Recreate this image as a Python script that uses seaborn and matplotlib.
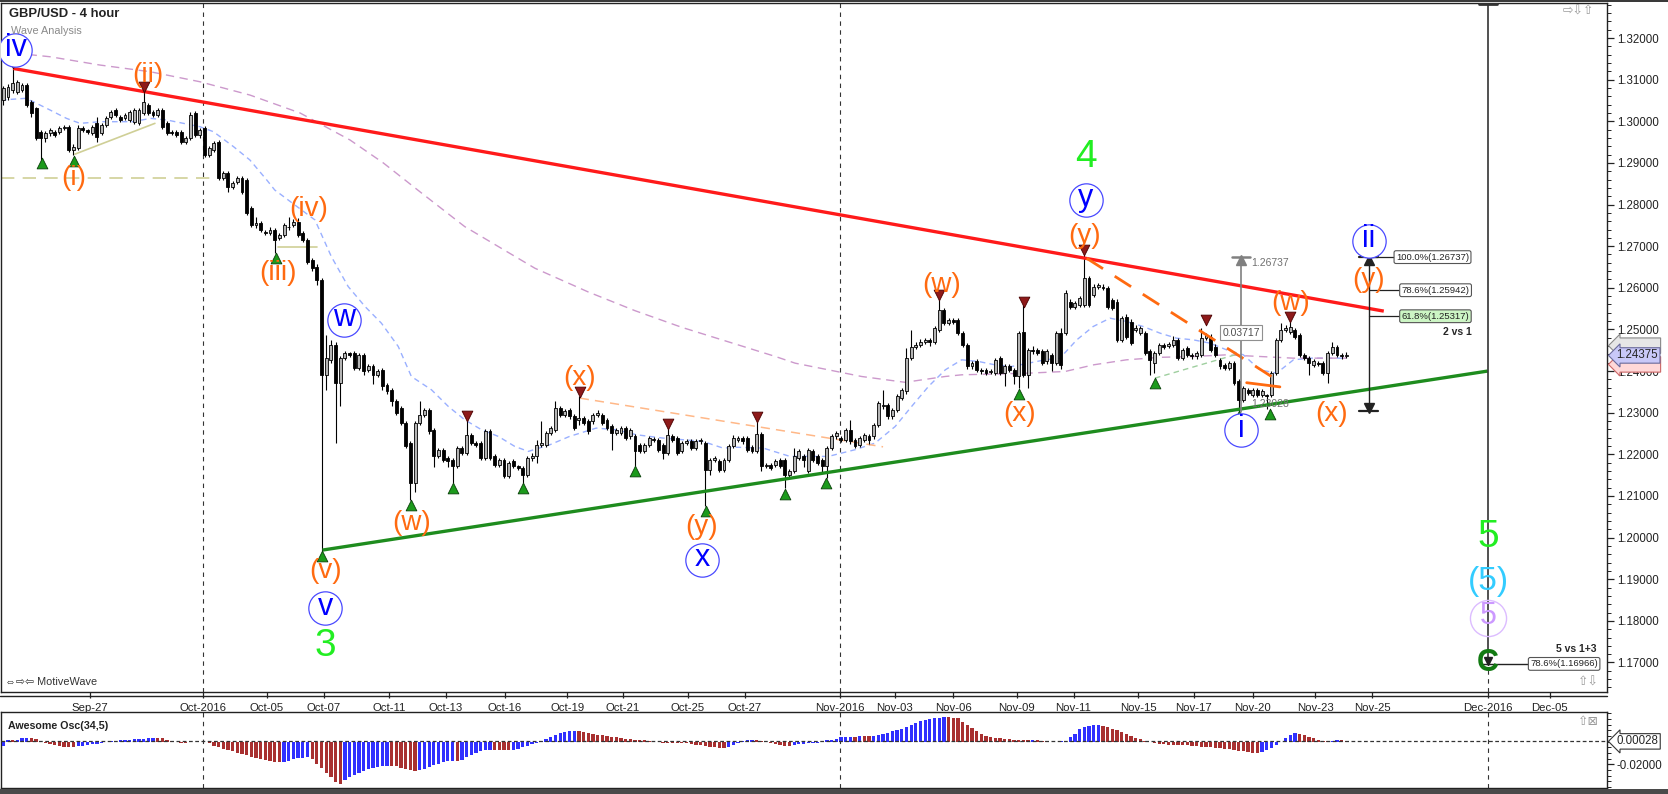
import numpy as np
import pandas as pd
import matplotlib
matplotlib.use("Agg")
import matplotlib.pyplot as plt
import matplotlib.transforms as mtransforms
from matplotlib.ticker import FormatStrFormatter, MultipleLocator, NullFormatter
import seaborn as sns

# ---- GBP/USD 4h candles: (open, high, low, close) in pips (1e-4) ----
candles_1 = [
    (13051, 13085, 13040, 13079), (13059, 13090, 13052, 13083), (13075, 13127, 13068, 13091),
    (13071, 13100, 13065, 13095), (13075, 13092, 13070, 13087), (13087, 13092, 13035, 13039),
    (13047, 13050, 13010, 13019), (13031, 13035, 12955, 12959), (12975, 12980, 12907, 12959),
    (12959, 12976, 12950, 12971), (12971, 12984, 12965, 12979), (12975, 12980, 12962, 12967),
    (12975, 12988, 12970, 12983), (12983, 12992, 12978, 12987), (12987, 12990, 12925, 12931),
    (12931, 12945, 12919, 12939), (12935, 12990, 12930, 12983), (12983, 12988, 12974, 12979),
    (12979, 12982, 12970, 12975), (12971, 12992, 12966, 12987), (12995, 13011, 12951, 12963),
    (12971, 12996, 12966, 12991), (12991, 13012, 12986, 13007), (13011, 13028, 13006, 13023),
    (13027, 13032, 13010, 13015), (13011, 13015, 12998, 13003), (13007, 13020, 13002, 13015),
    (13003, 13028, 12998, 13023), (12999, 13032, 12994, 13027), (12995, 13032, 12990, 13027),
    (13019, 13075, 13014, 13047), (13039, 13044, 13014, 13019), (13023, 13028, 13010, 13015),
    (13015, 13032, 13010, 13027), (13027, 13032, 12982, 12987), (12995, 13000, 12966, 12971),
    (12975, 12978, 12966, 12971), (12975, 12980, 12962, 12967), (12975, 12980, 12946, 12951),
    (12951, 12964, 12946, 12959), (12959, 13022, 12954, 13015), (13019, 13024, 12962, 12967),
    (12967, 12984, 12960, 12979), (12983, 12988, 12914, 12919), (12919, 12940, 12914, 12935),
    (12931, 12952, 12926, 12947), (12951, 12956, 12858, 12863), (12863, 12880, 12858, 12875),
    (12875, 12880, 12830, 12843), (12843, 12856, 12838, 12851), (12855, 12868, 12850, 12863),
    (12863, 12868, 12826, 12831), (12859, 12864, 12774, 12779), (12791, 12796, 12746, 12751),
    (12751, 12770, 12744, 12755), (12755, 12760, 12734, 12739), (12735, 12740, 12726, 12731),
]
candles_2 = [
    (12731, 12745, 12726, 12739), (12739, 12744, 12683, 12715), (12719, 12732, 12714, 12727),
    (12727, 12756, 12722, 12751), (12745, 12771, 12740, 12747), (12751, 12765, 12746, 12759),
    (12759, 12767, 12722, 12727), (12731, 12736, 12710, 12715), (12715, 12720, 12658, 12663),
    (12667, 12672, 12640, 12647), (12651, 12656, 12607, 12619), (12619, 12624, 11967, 12391),
    (12391, 12487, 12355, 12431), (12427, 12475, 12420, 12463), (12463, 12470, 12227, 12371),
    (12371, 12436, 12315, 12431), (12431, 12448, 12426, 12443), (12443, 12446, 12434, 12439),
    (12443, 12448, 12402, 12407), (12407, 12444, 12402, 12439), (12439, 12444, 12390, 12399),
    (12403, 12416, 12398, 12411), (12411, 12416, 12370, 12391), (12391, 12404, 12386, 12399),
    (12403, 12408, 12355, 12363), (12367, 12372, 12346, 12351), (12355, 12360, 12315, 12327),
    (12327, 12332, 12294, 12299), (12311, 12316, 12270, 12275), (12275, 12280, 12214, 12219),
    (12227, 12232, 12091, 12131), (12131, 12280, 12110, 12275), (12275, 12327, 12270, 12295),
    (12295, 12312, 12290, 12307), (12307, 12312, 12250, 12255), (12259, 12264, 12170, 12195),
    (12195, 12216, 12190, 12211), (12211, 12216, 12182, 12187), (12191, 12196, 12170, 12183),
    (12187, 12192, 12131, 12171), (12171, 12220, 12166, 12215), (12215, 12220, 12198, 12203),
    (12203, 12283, 12198, 12247), (12247, 12252, 12222, 12227), (12227, 12232, 12218, 12223),
    (12227, 12232, 12186, 12191), (12191, 12262, 12186, 12255), (12255, 12262, 12186, 12191),
    (12195, 12200, 12170, 12175), (12175, 12192, 12170, 12187), (12187, 12192, 12142, 12147),
    (12147, 12184, 12142, 12179), (12183, 12188, 12166, 12171), (12171, 12174, 12162, 12167),
    (12167, 12172, 12127, 12151), (12151, 12196, 12146, 12191), (12191, 12203, 12183, 12195),
]
candles_3 = [
    (12195, 12235, 12179, 12223), (12223, 12279, 12218, 12227), (12223, 12256, 12218, 12251),
    (12251, 12268, 12246, 12263), (12259, 12327, 12254, 12311), (12311, 12316, 12290, 12295),
    (12295, 12308, 12290, 12303), (12307, 12312, 12286, 12291), (12291, 12296, 12258, 12263),
    (12283, 12339, 12270, 12287), (12287, 12292, 12270, 12275), (12279, 12284, 12250, 12255),
    (12279, 12300, 12274, 12295), (12295, 12307, 12290, 12299), (12295, 12300, 12270, 12275),
    (12283, 12288, 12258, 12263), (12267, 12272, 12211, 12251), (12251, 12264, 12246, 12259),
    (12251, 12268, 12246, 12263), (12263, 12268, 12234, 12239), (12243, 12264, 12238, 12259),
    (12243, 12248, 12171, 12207), (12223, 12228, 12202, 12207), (12207, 12228, 12202, 12223),
    (12223, 12244, 12218, 12239), (12237, 12242, 12230, 12235), (12235, 12240, 12206, 12211),
    (12223, 12228, 12189, 12203), (12203, 12265, 12198, 12247), (12243, 12248, 12230, 12235),
    (12239, 12244, 12198, 12203), (12207, 12232, 12202, 12227), (12227, 12236, 12222, 12231),
    (12231, 12236, 12210, 12215), (12215, 12236, 12210, 12231), (12231, 12240, 12226, 12235),
    (12227, 12232, 12075, 12163), (12163, 12192, 12151, 12187), (12187, 12196, 12182, 12191),
    (12183, 12188, 12158, 12163), (12163, 12192, 12158, 12187), (12187, 12224, 12182, 12219),
    (12219, 12247, 12214, 12239), (12235, 12244, 12230, 12239), (12239, 12244, 12226, 12231),
    (12239, 12244, 12206, 12211), (12217, 12222, 12202, 12207), (12207, 12279, 12202, 12249),
    (12249, 12254, 12159, 12171), (12171, 12180, 12166, 12175), (12175, 12180, 12162, 12167),
    (12175, 12188, 12170, 12183), (12187, 12192, 12166, 12171), (12187, 12192, 12119, 12151),
    (12151, 12164, 12146, 12159), (12159, 12215, 12154, 12195),
]
candles_4 = [
    (12191, 12212, 12186, 12207), (12195, 12200, 12170, 12187), (12159, 12216, 12154, 12211),
    (12207, 12212, 12182, 12187), (12195, 12200, 12174, 12179), (12187, 12192, 12155, 12171),
    (12171, 12220, 12143, 12215), (12215, 12248, 12210, 12243), (12243, 12256, 12238, 12251),
    (12239, 12244, 12230, 12235), (12235, 12264, 12230, 12259), (12259, 12283, 12226, 12231),
    (12235, 12240, 12214, 12219), (12223, 12244, 12218, 12239), (12235, 12252, 12230, 12247),
    (12243, 12248, 12225, 12235), (12243, 12276, 12238, 12271), (12271, 12328, 12266, 12323),
    (12315, 12355, 12310, 12319), (12319, 12324, 12286, 12291), (12291, 12312, 12286, 12307),
    (12307, 12344, 12302, 12339), (12335, 12360, 12330, 12355), (12351, 12455, 12346, 12431),
    (12431, 12499, 12426, 12459), (12459, 12470, 12454, 12463), (12463, 12476, 12458, 12471),
    (12471, 12480, 12466, 12475), (12475, 12480, 12460, 12471), (12471, 12508, 12466, 12503),
    (12499, 12575, 12494, 12547), (12547, 12552, 12510, 12515), (12515, 12528, 12510, 12523),
    (12523, 12528, 12514, 12519), (12523, 12528, 12486, 12491), (12491, 12496, 12458, 12463),
    (12463, 12468, 12406, 12411), (12411, 12424, 12406, 12419), (12423, 12428, 12398, 12403),
    (12403, 12408, 12394, 12399), (12403, 12408, 12390, 12395), (12397, 12406, 12392, 12401),
    (12395, 12432, 12390, 12427), (12431, 12436, 12390, 12395), (12395, 12416, 12363, 12411),
    (12411, 12416, 12398, 12403), (12403, 12408, 12370, 12387), (12387, 12496, 12359, 12491),
    (12495, 12559, 12386, 12391), (12391, 12456, 12359, 12451), (12451, 12460, 12442, 12447),
    (12451, 12456, 12438, 12443), (12447, 12452, 12414, 12419), (12423, 12452, 12418, 12447),
    (12439, 12444, 12400, 12419), (12419, 12496, 12414, 12491),
]
candles_5 = [
    (12491, 12503, 12406, 12415), (12491, 12595, 12486, 12587), (12567, 12572, 12550, 12555),
    (12555, 12568, 12550, 12563), (12559, 12580, 12554, 12575), (12559, 12679, 12554, 12623),
    (12623, 12628, 12554, 12559), (12583, 12608, 12578, 12603), (12603, 12612, 12598, 12607),
    (12603, 12608, 12594, 12599), (12599, 12604, 12550, 12555), (12571, 12576, 12546, 12551),
    (12567, 12572, 12470, 12475), (12475, 12532, 12470, 12527), (12531, 12536, 12478, 12483),
    (12519, 12524, 12462, 12467), (12499, 12510, 12494, 12503), (12491, 12508, 12486, 12503),
    (12491, 12496, 12438, 12443), (12447, 12452, 12391, 12427), (12419, 12448, 12395, 12443),
    (12443, 12468, 12438, 12463), (12463, 12468, 12454, 12459), (12461, 12470, 12456, 12465),
    (12463, 12485, 12458, 12475), (12475, 12480, 12426, 12431), (12431, 12456, 12426, 12451),
    (12455, 12460, 12434, 12439), (12439, 12444, 12430, 12435), (12435, 12448, 12430, 12443),
    (12439, 12503, 12434, 12479), (12479, 12492, 12474, 12487), (12483, 12488, 12446, 12451),
    (12459, 12464, 12434, 12439), (12427, 12432, 12406, 12411), (12415, 12420, 12402, 12407),
    (12407, 12424, 12402, 12419), (12419, 12424, 12366, 12371), (12375, 12380, 12302, 12331),
    (12331, 12364, 12326, 12359), (12355, 12360, 12342, 12347), (12343, 12360, 12338, 12355),
    (12355, 12360, 12338, 12343), (12343, 12356, 12338, 12351), (12343, 12346, 12310, 12339),
    (12343, 12400, 12338, 12395), (12395, 12480, 12390, 12475), (12475, 12515, 12470, 12499),
    (12499, 12510, 12494, 12503), (12495, 12517, 12490, 12507), (12499, 12504, 12478, 12483),
    (12487, 12492, 12434, 12439), (12439, 12444, 12426, 12431), (12431, 12436, 12390, 12419),
    (12415, 12428, 12410, 12423), (12419, 12424, 12412, 12417), (12419, 12424, 12390, 12395),
    (12395, 12448, 12371, 12443), (12443, 12471, 12438, 12459), (12457, 12462, 12434, 12439),
    (12439, 12444, 12430, 12435), (12437, 12446, 12432, 12438),
]

# ---- Awesome Oscillator (34,5), one value per bar, in 1e-4 ----
ao_1 = [
    -38, 15, 15, 18, 30, 35, 35, 21, 3, -9,
    -21, -32, -41, -44, -44, -44, -41, -35, -30, -24,
    -18, -12, -6, 3, 9, 12, 15, 18, 21, 24,
    27, 32, 35, 35, 32, 15, 3, -6, -9, -9,
    -6, 0, 0, 0, -15, -38, -50, -62, -74, -86,
    -97, -109, -121, -133, -145, -156, -165, -174, -180, -183,
    -180, -168, -156, -148, -142, -139, -150, -198, -236, -274,
    -316, -354, -375, -339, -316, -295, -274, -257, -245, -233,
    -224, -218, -215, -215, -218, -230, -242, -251, -257, -251,
    -239, -224, -209, -195, -180, -171, -168, -171, -162, -139,
    -118, -97, -83, -74, -71, -71, -74, -77, -77, -74,
    -65, -50, -38, -24, -12, 6, 27, 44, 62, 77,
    86, 91, 94, 91, 86, 77, 68, 62, 56, 50,
    44, 38, 32, 27, 21, 18, 15, 12, 6, -3,
]
ao_2 = [
    -6, -9, -9, -12, -12, -12, -15, -21, -27, -32,
    -38, -44, -50, -56, -59, -44, -27, -9, 6, 15,
    18, 15, 9, -3, -12, -21, -30, -35, -35, -30,
    -24, -18, -15, -12, -9, 3, 12, 15, 21, 38,
    41, 44, 44, 47, 47, 47, 50, 59, 68, 80,
    91, 103, 115, 133, 150, 168, 183, 195, 204, 209,
    212, 215, 215, 212, 206, 177, 148, 118, 94, 68,
    50, 41, 35, 30, 24, 21, 18, 15, 15, 12,
    15, 12, 9, 3, 0, 0, 3, 9, 38, 68,
    109, 133, 142, 145, 148, 142, 127, 115, 100, 86,
    68, 50, 35, 24, 9, 0, -9, -18, -24, -30,
    -30, -30, -30, -32, -38, -41, -47, -50, -50, -53,
    -56, -62, -68, -74, -80, -86, -91, -97, -103, -91,
    -74, -56, -32, 0, 32, 62, 74, 71, 59, 44,
    30, 18, 6, 3, 6, 15, 12, 3,
]

# ---- moving averages (bar index, pips) ----
fast_ma_bar = [-0.5, 4.6, 6.4, 10, 13.5, 16.4, 20.7, 27.8, 31.4, 35, 38.5, 42, 44.9, 49.2, 52.7,
               56.3, 58, 66.6, 70.1, 73.7, 77.3, 80.8, 84.4, 87.2, 91.5, 95.1, 98.6, 102.2, 105.8,
               109.3, 112.2, 116.8, 121, 126.7, 131, 135.3, 141, 145.3, 149.5, 153.8, 156.7, 162.4,
               168.1, 176.3, 182, 186.3, 190.6, 194.1, 197.7, 201.3, 204.8, 208.4, 211.9, 215.5,
               219.1, 222.6, 225.8, 229.4, 232.9, 236.5, 240, 243.6, 247.2, 250.7, 254.3, 257.9,
               261.4, 265, 268.5, 272.1, 275.7, 279.2, 282.8, 287]
fast_ma_pips = [13051, 13055, 13047, 13027, 13007, 12995, 12999, 12999, 13007, 13003, 12995, 12987,
                12975, 12939, 12907, 12859, 12835, 12763, 12675, 12603, 12555, 12515, 12459, 12387,
                12355, 12315, 12283, 12259, 12243, 12219, 12207, 12223, 12243, 12263, 12259, 12247,
                12239, 12235, 12231, 12215, 12217, 12215, 12195, 12195, 12211, 12227, 12267, 12315,
                12363, 12403, 12427, 12423, 12415, 12411, 12419, 12427, 12431, 12475, 12507, 12527,
                12519, 12507, 12491, 12479, 12475, 12467, 12451, 12439, 12403, 12395, 12427, 12431,
                12431, 12431]
slow_ma_bar = [-0.5, 10, 20.7, 31.4, 42, 52.7, 63.4, 74.1, 81.2, 89, 98.6, 105.8, 113.6, 125, 135,
               145, 155, 165, 169.2, 176.3, 183.4, 192.7, 201.3, 204.8, 211.9, 219.1, 226.9, 233,
               240, 247.2, 254.3, 261.4, 268.5, 275.7, 287]
slow_ma_pips = [13167, 13155, 13135, 13119, 13095, 13063, 13020, 12955, 12900, 12831, 12747, 12699,
                12647, 12590, 12545, 12505, 12470, 12435, 12419, 12403, 12387, 12373, 12387, 12391,
                12393, 12395, 12399, 12415, 12427, 12433, 12435, 12439, 12435, 12431, 12431]

# ---- date axis ----
tick_bars = [18.5, 42.6, 56.3, 68.5, 82.4, 94.6, 107.2, 120.5, 132.4, 146.3, 158.5, 178.7, 190.5,
             203, 216.6, 228.7, 242.5, 254.4, 267, 280.4, 292.5, 317.3, 330.5]
tick_labels = ["Sep-27", "Oct-2016", "Oct-05", "Oct-07", "Oct-11", "Oct-13", "Oct-16", "Oct-19",
               "Oct-21", "Oct-25", "Oct-27", "Nov-2016", "Nov-03", "Nov-06", "Nov-09", "Nov-11",
               "Nov-15", "Nov-17", "Nov-20", "Nov-23", "Nov-25", "Dec-2016", "Dec-05"]
month_bars = [42.6, 178.7, 317.3]

# ---- swing markers (bar, pips) ----
high_mark_bar = [2.1, 30.1, 99.1, 123.2, 142.1, 161, 199.9, 218.2, 231, 257, 275]
high_mark_pips = [13140, 13082, 12292, 12350, 12272, 12290, 12583, 12567, 12690, 12523, 12529]
low_mark_bar = [8.2, 15.1, 58.2, 68.2, 87.1, 96.2, 111.1, 135, 150.1, 167, 175.7, 217, 246.1, 264.1, 270.7]
low_mark_pips = [12900, 12905, 12672, 11955, 12078, 12120, 12120, 12160, 12065, 12105, 12132,
                 12345, 12372, 12292, 12298]

# ---- wave labels ----
minor_text = ["(i)", "(ii)", "(iii)", "(iv)", "(v)", "(w)", "(x)", "(y)", "(w)", "(x)", "(y)",
              "(w)", "(x)", "(y)"]
minor_bar = [15.1, 30.9, 58.8, 65.2, 68.8, 87.3, 123.2, 149.3, 200.5, 217.2, 231.1, 275, 283.9, 291.8]
minor_pips = [12864, 13111, 12635, 12789, 11920, 12034, 12383, 12026, 12607, 12297, 12724, 12563,
              12298, 12619]
circled_text = ["iv", "w", "v", "x", "y", "i", "ii"]
circled_bar = [2.6, 72.9, 68.8, 149.3, 231.3, 264.5, 291.8]
circled_pips = [13171, 12523, 11830, 11947, 12811, 12258, 12713]
major_text = ["3", "4", "5"]
major_bar = [68.8, 231.3, 317.3]
major_pips = [11740, 12913, 12002]

# ---- trend lines (bar, price) ----
upper_line = ([2.1, 295], [1.3127, 1.2544])
lower_line = ([68.2, 317.2], [1.1970, 1.2400])
fib_levels = [("100.0%", 1.26737), ("78.6%", 1.25942), ("61.8%", 1.25317)]
last_price = 1.24375
ao_last = 0.00028

# ---------------------------------------------------------------
sns.set_style("white")
plt.rcParams['font.family'] = ['Liberation Sans', 'DejaVu Sans']

df = pd.DataFrame(candles_1 + candles_2 + candles_3 + candles_4 + candles_5,
                  columns=['open', 'high', 'low', 'close']) / 10000.0
df['bar'] = np.arange(len(df))
df['ao'] = np.array(ao_1 + ao_2) / 10000.0
up = df['close'] >= df['open']

W, H = 1668, 794
fig = plt.figure(figsize=(W / 100, H / 100), dpi=100)
fig.patch.set_facecolor('white')


def px_rect(x0, y0, x1, y1):
    return [x0 / W, 1 - y1 / H, (x1 - x0) / W, (y1 - y0) / H]


ax = fig.add_axes(px_rect(1, 3, 1607, 692))
ax_ao = fig.add_axes(px_rect(1, 712, 1607, 788))
XLIM = (-0.49, 342.7)

# month separators
for b in month_bars[:2]:
    ax.axvline(b, color='#333333', lw=0.8, ls=(0, (4, 4)), zorder=1)
for b in month_bars:
    ax_ao.axvline(b, color='#333333', lw=0.8, ls=(0, (4, 4)), zorder=1)

# moving averages
fast = pd.DataFrame({'bar': fast_ma_bar, 'price': np.array(fast_ma_pips) / 10000.0})
slow = pd.DataFrame({'bar': slow_ma_bar, 'price': np.array(slow_ma_pips) / 10000.0})
sns.lineplot(data=fast, x='bar', y='price', ax=ax, color='#9ab0ff', lw=1.0,
             estimator=None, sort=False, zorder=2)
ax.get_lines()[-1].set_dashes([4, 3])
sns.lineplot(data=slow, x='bar', y='price', ax=ax, color='#cc99cc', lw=1.0,
             estimator=None, sort=False, zorder=2)
ax.get_lines()[-1].set_dashes([6, 4])

# helper dashed annotation lines
ax.plot([-0.5, 45.2], [1.2864, 1.2864], color='#cfcf96', lw=1.2, dashes=[8, 5], zorder=2)
ax.plot([15.3, 32.4], [1.2921, 1.2995], color='#cfcf96', lw=1.2, zorder=2)
ax.plot([58.7, 67], [1.2698, 1.2698], color='#cfcf96', lw=1.2, zorder=2)
ax.plot([123.2, 188], [1.2335, 1.2218], color='#ffb888', lw=1.1, dashes=[6, 4], zorder=2)
ax.plot([246.1, 263.2], [1.2383, 1.2439], color='#9fcf9f', lw=1.0, dashes=[4, 3], zorder=2)

# candles
ax.vlines(df['bar'], df['low'], df['high'], color='black', lw=0.8, zorder=3)
body_h = (df['close'] - df['open']).abs().clip(lower=0.00005)
body_b = df[['open', 'close']].min(axis=1)
ax.bar(df['bar'], body_h, bottom=body_b, width=0.62,
       color=np.where(up, '#b4b4b4', '#000000'), edgecolor='black', lw=0.6, zorder=4)

# trend lines
ax.plot(*upper_line, color='#ff1a1a', lw=2.4, solid_capstyle='butt', zorder=5)
ax.plot(*lower_line, color='#1e8c1e', lw=2.4, solid_capstyle='butt', zorder=5)
ax.plot([231.5, 272.1], [1.2671, 1.2379], color='#ff6a10', lw=2.0, dashes=[7, 5], zorder=5)
ax.plot([265.7, 272.8], [1.2372, 1.2362], color='#ff6a10', lw=2.0, zorder=5)

# swing markers
ax.scatter(high_mark_bar, np.array(high_mark_pips) / 10000.0, marker='v', s=60,
           color='#8e1a1a', edgecolors='#4a0000', linewidths=0.6, zorder=6)
ax.scatter(low_mark_bar, np.array(low_mark_pips) / 10000.0, marker='^', s=60,
           color='#1c9a1c', edgecolors='#0a400a', linewidths=0.6, zorder=6)

# wave labels
for t, b, p in zip(minor_text, minor_bar, minor_pips):
    ax.text(b, p / 10000.0, t, color='#ff6a10', fontsize=20, ha='center', va='center', zorder=8)
for t, b, p in zip(circled_text, circled_bar, circled_pips):
    ax.plot(b, p / 10000.0, 'o', ms=24, mfc='white', mec='#4a4aff', mew=0.9, zorder=7)
    ax.text(b, p / 10000.0 + 0.0004, t, color='#0000ff', fontsize=22, ha='center', va='center', zorder=8)
for t, b, p in zip(major_text, major_bar, major_pips):
    ax.text(b, p / 10000.0, t, color='#22ee22', fontsize=28, ha='center', va='center', zorder=8)

# measurement: wave i height (grey)
mb, m_top, m_bot = 264.5, 1.26737, 1.23028
ax.plot([mb, mb], [m_bot, m_top], color='#808080', lw=1.2, zorder=6)
ax.plot([mb - 2, mb + 2], [m_top, m_top], color='#808080', lw=1.8, zorder=6)
ax.plot(mb, m_top - 0.0007, marker='^', ms=7, color='#808080', zorder=6)
ax.text(mb + 2.2, 1.2660, "1.26737", color='#707070', fontsize=7.5, ha='left', va='center', zorder=8)
ax.text(mb + 2.2, 1.2322, "1.23028", color='#707070', fontsize=7.5, ha='left', va='center', zorder=8)
ax.text(mb, 1.2492, "0.03717", color='#505050', fontsize=7.5, ha='center', va='center', zorder=8,
        bbox=dict(boxstyle='square,pad=0.25', fc='white', ec='#909090', lw=0.8))

# measurement: 2 vs 1 (black)
fb, f_bot = 291.8, 1.2305
ax.plot([fb, fb], [f_bot, fib_levels[0][1]], color='#222222', lw=1.0, zorder=6)
for yy in (fib_levels[0][1], f_bot):
    ax.plot([fb - 2, fb + 2], [yy, yy], color='#222222', lw=1.6, zorder=6)
ax.plot(fb, fib_levels[0][1] - 0.0007, marker='^', ms=7, color='#222222', zorder=6)
ax.plot(fb, f_bot + 0.0007, marker='v', ms=7, color='#222222', zorder=6)
for k, (lab, lv) in enumerate(fib_levels):
    x_box = 297.6 if k == 0 else 298.8
    ax.plot([fb, x_box - 0.5], [lv, lv], color='#222222', lw=0.9, zorder=6)
    ax.text(x_box, lv, f"{lab}({lv:.5f})", fontsize=6.8, ha='left', va='center', color='#222222',
            zorder=8, bbox=dict(boxstyle='round,pad=0.2', fc='#ccf5c4' if k == 2 else 'white',
                                ec='#555555', lw=0.8))
ax.text(313.8, 1.2495, "2 vs 1", fontsize=7.5, fontweight='bold', ha='right', va='center', zorder=8)

# measurement: 5 vs 1+3 on the Dec-2016 line
dec_bar, c_level = month_bars[2], 1.16966
ax.plot([dec_bar, dec_bar], [c_level, 1.3283], color='#333333', lw=1.2, zorder=6)
ax.plot([dec_bar, dec_bar], [1.1629, c_level], color='#333333', lw=0.8, ls=(0, (4, 4)), zorder=6)
ax.plot([dec_bar - 2, dec_bar + 2], [1.3281, 1.3281], color='#333333', lw=2.0, zorder=6)
ax.plot([dec_bar - 1.8, 326], [c_level, c_level], color='#222222', lw=1.0, zorder=6)
ax.plot(dec_bar, c_level + 0.0008, marker='v', ms=6, color='#222222', zorder=7)
ax.text(326.3, c_level, f"78.6%({c_level:.5f})", fontsize=6.8, ha='left', va='center', color='#222222',
        zorder=8, bbox=dict(boxstyle='round,pad=0.2', fc='white', ec='#555555', lw=0.8))
ax.text(340.5, 1.1733, "5 vs 1+3", fontsize=7.5, fontweight='bold', ha='right', va='center', zorder=8)
ax.text(dec_bar, 1.1894, "(5)", color='#33ccff', fontsize=24, ha='center', va='center', zorder=8)
ax.plot(dec_bar, 1.1808, 'o', ms=26, mfc='none', mec='#dcbcff', mew=1.0, zorder=7)
ax.text(dec_bar, 1.1811, "5", color='#cc99ff', fontsize=22, ha='center', va='center', zorder=8)
ax.text(dec_bar, 1.1699, "C", color='#127a12', fontsize=22, fontweight='bold',
        ha='center', va='center', zorder=8)

# axes styling (main)
ax.set_xlim(*XLIM)
ax.set_ylim(1.16291, 1.32841)
ax.set_xlabel("")
ax.set_ylabel("")
ax.set_xticks(tick_bars)
ax.set_xticklabels(tick_labels)
ax.yaxis.tick_right()
ax.set_yticks(np.round(np.arange(1.17, 1.3201, 0.01), 2))
ax.yaxis.set_major_formatter(FormatStrFormatter('%.5f'))
ax.yaxis.set_minor_locator(MultipleLocator(0.002))
ax.tick_params(axis='y', which='major', left=False, right=True, labelleft=False, labelright=True,
               direction='out', length=5, width=0.9, labelsize=8.3, pad=2, colors='#222222')
ax.tick_params(axis='y', which='minor', left=False, right=True, direction='out', length=3, width=0.7,
               colors='#222222')
ax.tick_params(axis='x', bottom=True, direction='out', length=4, width=0.9, labelsize=8.2, pad=4,
               colors='#222222')
for s in ax.spines.values():
    s.set_color('#222222')
    s.set_linewidth(1.0)

# price tags on the right axis (two older tags sit mostly hidden behind the last price)
blend = mtransforms.blended_transform_factory(ax.transAxes, ax.transData)
ax.text(1.006, 1.2461, " " * 13, transform=blend, fontsize=8.3, ha='left', va='center', zorder=9,
        clip_on=False, bbox=dict(boxstyle='larrow,pad=0.15', fc='#e6e6e6', ec='#888888', lw=0.8))
ax.text(1.006, 1.2416, " " * 13, transform=blend, fontsize=8.3, ha='left', va='center', zorder=9,
        clip_on=False, bbox=dict(boxstyle='larrow,pad=0.15', fc='#ffd8d8', ec='#cc6666', lw=0.8))
ax.text(1.006, last_price, f"{last_price:.5f}", transform=blend, fontsize=8.3, ha='left',
        va='center', zorder=10, clip_on=False,
        bbox=dict(boxstyle='larrow,pad=0.15', fc='#c8c8f8', ec='#6a6a9a', lw=0.8))

# Awesome oscillator
ao_colors = np.where(df['ao'].diff().fillna(1) > 0, '#3030ff', '#a83030')
ax_ao.bar(df['bar'], df['ao'], width=0.7, color=ao_colors, lw=0, zorder=3)
ax_ao.axhline(ao_last, color='#333333', lw=0.9, ls=(0, (3, 2)), zorder=4)
ax_ao.set_xlim(*XLIM)
ax_ao.set_ylim(-0.04097, 0.02628)
ax_ao.set_xticks([])
ax_ao.yaxis.tick_right()
ax_ao.set_yticks([-0.02])
ax_ao.yaxis.set_major_formatter(FormatStrFormatter('%.5f'))
ax_ao.yaxis.set_minor_locator(MultipleLocator(0.005))
ax_ao.yaxis.set_minor_formatter(NullFormatter())
ax_ao.tick_params(axis='y', which='major', left=False, right=True, labelleft=False, labelright=True,
                  direction='out', length=5, width=0.9, labelsize=8.3, pad=2, colors='#222222')
ax_ao.tick_params(axis='y', which='minor', left=False, right=True, direction='out', length=3,
                  width=0.7, colors='#222222')
for s in ax_ao.spines.values():
    s.set_color('#222222')
    s.set_linewidth(1.0)
blend_ao = mtransforms.blended_transform_factory(ax_ao.transAxes, ax_ao.transData)
ax_ao.text(1.006, ao_last, f"{ao_last:.5f}", transform=blend_ao, fontsize=8.3, ha='left', va='center',
           clip_on=False, zorder=9,
           bbox=dict(boxstyle='larrow,pad=0.15', fc='white', ec='#333333', lw=0.8))

# window texts and frame
fig.text(9 / W, 1 - 14 / H, "GBP/USD - 4 hour", fontsize=9.4, fontweight='bold', color='#222222',
         va='center', ha='left')
fig.text(11 / W, 1 - 31 / H, "Wave Analysis", fontsize=7.8, color='#8a8a8a', va='center', ha='left')
fig.text(5 / W, 1 - 682 / H, "⇔⇨⇦ MotiveWave", fontsize=7.8, color='#333333', va='center', ha='left')
fig.text(8 / W, 1 - 726 / H, "Awesome Osc(34,5)", fontsize=7.7, fontweight='bold', color='#222222',
         va='center', ha='left')
fig.text(1563 / W, 1 - 12 / H, "⇨⇩⇧", fontsize=9, color='#999999', va='center', ha='left')
fig.text(1578 / W, 1 - 683 / H, "⇧⇩", fontsize=9, color='#999999', va='center', ha='left')
fig.text(1578 / W, 1 - 722 / H, "⇧⊠", fontsize=9, color='#999999', va='center', ha='left')
fig.add_artist(plt.Line2D([0, 1607 / W], [1 - 696 / H, 1 - 696 / H], color='#222222', lw=1.0))
fig.add_artist(plt.Rectangle((0, 1 - 2 / H), 1, 2 / H, color='#3a3a3a', lw=0))
fig.add_artist(plt.Rectangle((0, 0), 1, 5 / H, color='#4a4a4a', lw=0))

fig.savefig("out.png", dpi=100)
